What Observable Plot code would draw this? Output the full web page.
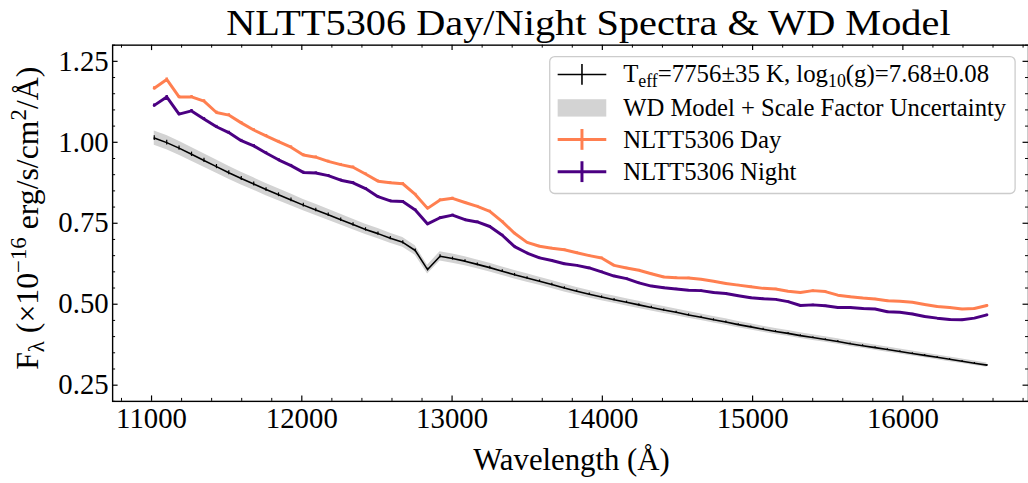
<!DOCTYPE html>
<html>
<head>
<meta charset="utf-8">
<script src="https://cdn.jsdelivr.net/npm/d3@7"></script>
<script src="https://cdn.jsdelivr.net/npm/@observablehq/plot@0.6"></script>
<style>
  html, body { margin: 0; padding: 0; background: #fff; overflow: hidden; }
  #chart { width: 1028px; height: 483px; overflow: hidden; position: relative; }
</style>
</head>
<body>
<div id="chart"></div>
<script>
// Wavelength grid of the binned spectra (Å)
const wavelength = [
  11018, 11101, 11183, 11266, 11349, 11432, 11514, 11597, 11680, 11762,
  11845, 11928, 12010, 12093, 12176, 12259, 12341, 12424, 12507, 12589,
  12672, 12755, 12837, 12920, 13003, 13086, 13168, 13251, 13334, 13416,
  13499, 13582, 13664, 13747, 13830, 13913, 13995, 14078, 14161, 14243,
  14326, 14409, 14491, 14574, 14657, 14740, 14822, 14905, 14988, 15070,
  15153, 15236, 15318, 15401, 15484, 15567, 15649, 15732, 15815, 15897,
  15980, 16063, 16145, 16228, 16311, 16394, 16476, 16559
];

// Day-side spectrum, F_λ in 1e-16 erg/s/cm²/Å
const dayFlux = [
  1.167, 1.194, 1.140, 1.140, 1.127, 1.092, 1.084, 1.060, 1.038, 1.020,
  1.002, 0.985, 0.961, 0.954, 0.941, 0.931, 0.923, 0.902, 0.880, 0.875,
  0.872, 0.839, 0.796, 0.822, 0.827, 0.814, 0.802, 0.787, 0.755, 0.719,
  0.691, 0.679, 0.673, 0.668, 0.659, 0.650, 0.643, 0.620, 0.612, 0.605,
  0.594, 0.584, 0.582, 0.581, 0.577, 0.571, 0.564, 0.559, 0.554, 0.549,
  0.547, 0.540, 0.536, 0.542, 0.539, 0.528, 0.523, 0.519, 0.516, 0.511,
  0.509, 0.506, 0.499, 0.493, 0.490, 0.485, 0.487, 0.496
];

// Night-side spectrum
const nightFlux = [
  1.114, 1.140, 1.087, 1.097, 1.072, 1.048, 1.030, 1.005, 0.989, 0.967,
  0.946, 0.928, 0.907, 0.905, 0.897, 0.883, 0.875, 0.857, 0.832, 0.819,
  0.817, 0.791, 0.748, 0.767, 0.775, 0.761, 0.754, 0.740, 0.713, 0.678,
  0.658, 0.643, 0.635, 0.625, 0.620, 0.612, 0.600, 0.587, 0.579, 0.566,
  0.556, 0.551, 0.547, 0.543, 0.542, 0.536, 0.533, 0.526, 0.520, 0.517,
  0.515, 0.508, 0.496, 0.498, 0.495, 0.490, 0.490, 0.487, 0.485, 0.477,
  0.475, 0.470, 0.462, 0.457, 0.453, 0.452, 0.457, 0.467
];

// White dwarf model (Teff = 7756 K, log g = 7.68), scaled
const modelFlux = [
  1.013, 0.999, 0.982, 0.963, 0.944, 0.925, 0.906, 0.888, 0.871, 0.854,
  0.838, 0.822, 0.806, 0.791, 0.776, 0.761, 0.746, 0.731, 0.718, 0.704,
  0.691, 0.666, 0.607, 0.648, 0.641, 0.633, 0.623, 0.613, 0.602, 0.591,
  0.581, 0.571, 0.561, 0.550, 0.540, 0.531, 0.522, 0.514, 0.506, 0.498,
  0.490, 0.482, 0.475, 0.467, 0.460, 0.452, 0.445, 0.437, 0.430, 0.423,
  0.416, 0.410, 0.403, 0.397, 0.391, 0.385, 0.378, 0.372, 0.366, 0.360,
  0.354, 0.348, 0.342, 0.336, 0.330, 0.324, 0.318, 0.312
];

// Fractional uncertainties: model scale factor band, model points, spectra points
const scaleFactorErr = 0.022;
const modelErr = 0.007;
const spectrumErr = 0.004;

// Axis ticks
const xMajorTicks = [11000, 12000, 13000, 14000, 15000, 16000];
const xMinorTicks = d3.range(10800, 16801, 200).filter(v => v % 1000 !== 0);
const yMajorTicks = [0.25, 0.50, 0.75, 1.00, 1.25];
const yMinorTicks = [0.20, 0.30, 0.35, 0.40, 0.45, 0.55, 0.60, 0.65, 0.70, 0.80, 0.85, 0.90, 0.95, 1.05, 1.10, 1.15, 1.20, 1.30];

const dayColor = "#ff7f50";
const nightColor = "#4b0082";
const bandColor = "#d3d3d3";
const font = "'Liberation Serif', 'Times New Roman', serif";

const rows = wavelength.map((w, i) => ({
  w,
  day: dayFlux[i],
  night: nightFlux[i],
  model: modelFlux[i]
}));

const W = 1036, H = 483, mL = 113, mR = 0, mT = 45, mB = 79;
const plotW = W - mL - mR;
const plotH = H - mT - mB;
const major = 5.5, minor = 3;

const chart = Plot.plot({
  width: W, height: H,
  marginLeft: mL, marginRight: mR, marginTop: mT, marginBottom: mB,
  style: { fontFamily: font, fontSize: "29px", color: "#000", background: "#fff", overflow: "visible" },
  x: { domain: [10741, 16836], label: null },
  y: { domain: [0.2, 1.3], label: null },
  marks: [
    // model band: model × (1 ± scale factor uncertainty)
    Plot.areaY(rows, { x: "w", y1: d => d.model * (1 - scaleFactorErr), y2: d => d.model * (1 + scaleFactorErr), fill: bandColor }),
    Plot.lineY(rows, { x: "w", y: "model", stroke: "#000", strokeWidth: 1.6 }),
    Plot.ruleX(rows, { x: "w", y1: d => d.model * (1 - modelErr), y2: d => d.model * (1 + modelErr), stroke: "#000", strokeWidth: 1.2 }),
    Plot.lineY(rows, { x: "w", y: "day", stroke: dayColor, strokeWidth: 3 }),
    Plot.ruleX(rows, { x: "w", y1: d => d.day * (1 - spectrumErr), y2: d => d.day * (1 + spectrumErr), stroke: dayColor, strokeWidth: 2.4 }),
    Plot.lineY(rows, { x: "w", y: "night", stroke: nightColor, strokeWidth: 3 }),
    Plot.ruleX(rows, { x: "w", y1: d => d.night * (1 - spectrumErr), y2: d => d.night * (1 + spectrumErr), stroke: nightColor, strokeWidth: 2.4 }),

    // frame and inward ticks on all sides
    Plot.frame({ stroke: "#000", strokeWidth: 1.4 }),
    Plot.ruleX(xMajorTicks, { insetTop: plotH - major, stroke: "#000", strokeWidth: 1.2 }),
    Plot.ruleX(xMajorTicks, { insetBottom: plotH - major, stroke: "#000", strokeWidth: 1.2 }),
    Plot.ruleX(xMinorTicks, { insetTop: plotH - minor, stroke: "#000", strokeWidth: 1 }),
    Plot.ruleX(xMinorTicks, { insetBottom: plotH - minor, stroke: "#000", strokeWidth: 1 }),
    Plot.ruleY(yMajorTicks, { insetRight: plotW - major, stroke: "#000", strokeWidth: 1.2 }),
    Plot.ruleY(yMinorTicks, { insetRight: plotW - minor, stroke: "#000", strokeWidth: 1 }),
    Plot.ruleY(yMajorTicks, { insetLeft: plotW - major, stroke: "#000", strokeWidth: 1.2 }),
    Plot.ruleY(yMinorTicks, { insetLeft: plotW - minor, stroke: "#000", strokeWidth: 1 }),

    // tick labels
    Plot.axisX(xMajorTicks, { tickSize: 0, tickPadding: 6, tickFormat: d => String(d), fontSize: 29, label: null }),
    Plot.axisY(yMajorTicks, { tickSize: 0, tickPadding: 4, tickFormat: d => d.toFixed(2), fontSize: 29, label: null })
  ]
});

document.getElementById("chart").appendChild(chart);

// Title, axis titles and legend
const svg = d3.select(chart);

svg.append("text")
  .attr("x", 228).attr("y", 35)
  .attr("text-anchor", "start")
  .attr("textLength", 730).attr("lengthAdjust", "spacingAndGlyphs")
  .style("font-family", font).style("font-size", "37px").attr("fill", "#000")
  .text("NLTT5306 Day/Night Spectra & WD Model");

svg.append("text")
  .attr("x", 576).attr("y", 474)
  .attr("text-anchor", "middle")
  .style("font-family", font).style("font-size", "31px").attr("fill", "#000")
  .text("Wavelength (Å)");

const yl = svg.append("text")
  .attr("transform", "translate(38,220) rotate(-90)")
  .attr("text-anchor", "middle")
  .style("font-family", font).style("font-size", "32px").attr("fill", "#000");
yl.append("tspan").text("F");
yl.append("tspan").attr("dy", 6).style("font-size", "23px").text("λ");
yl.append("tspan").attr("dy", -6).text(" (×10");
yl.append("tspan").attr("dy", -12).style("font-size", "23px").text("−16");
yl.append("tspan").attr("dy", 12).text(" erg/s/cm");
yl.append("tspan").attr("dy", -12).style("font-size", "23px").text("2");
yl.append("tspan").attr("dy", 12).text("/Å)");

const lg = svg.append("g")
  .attr("text-anchor", "start")
  .style("font-family", font).style("font-size", "25px");
lg.append("rect")
  .attr("x", 554).attr("y", 57).attr("width", 469).attr("height", 138).attr("rx", 5)
  .attr("fill", "#fff").attr("fill-opacity", 0.8)
  .attr("stroke", "#cccccc").attr("stroke-width", 1.3);

function handle(y, color, width) {
  lg.append("line").attr("x1", 562).attr("x2", 611).attr("y1", y).attr("y2", y)
    .attr("stroke", color).attr("stroke-width", width);
  lg.append("line").attr("x1", 586.5).attr("x2", 586.5).attr("y1", y - 10.5).attr("y2", y + 10.5)
    .attr("stroke", color).attr("stroke-width", width);
}

handle(75, "#000", 1.6);
const t1 = lg.append("text").attr("x", 628).attr("y", 83).attr("fill", "#000");
t1.append("tspan").text("T");
t1.append("tspan").attr("dy", 5).style("font-size", "18px").text("eff");
t1.append("tspan").attr("dy", -5).text("=7756±35 K, log");
t1.append("tspan").attr("dy", 5).style("font-size", "18px").text("10");
t1.append("tspan").attr("dy", -5).text("(g)=7.68±0.08");

lg.append("rect").attr("x", 562).attr("y", 100).attr("width", 49).attr("height", 17.5).attr("fill", bandColor);
lg.append("text").attr("x", 628).attr("y", 116.5).attr("fill", "#000")
  .attr("textLength", 386).attr("lengthAdjust", "spacingAndGlyphs")
  .text("WD Model + Scale Factor Uncertainty");

handle(140.5, dayColor, 3);
lg.append("text").attr("x", 628).attr("y", 149.5).attr("fill", "#000").text("NLTT5306 Day");

handle(173, nightColor, 3);
lg.append("text").attr("x", 628).attr("y", 181).attr("fill", "#000").text("NLTT5306 Night");
</script>
</body>
</html>
